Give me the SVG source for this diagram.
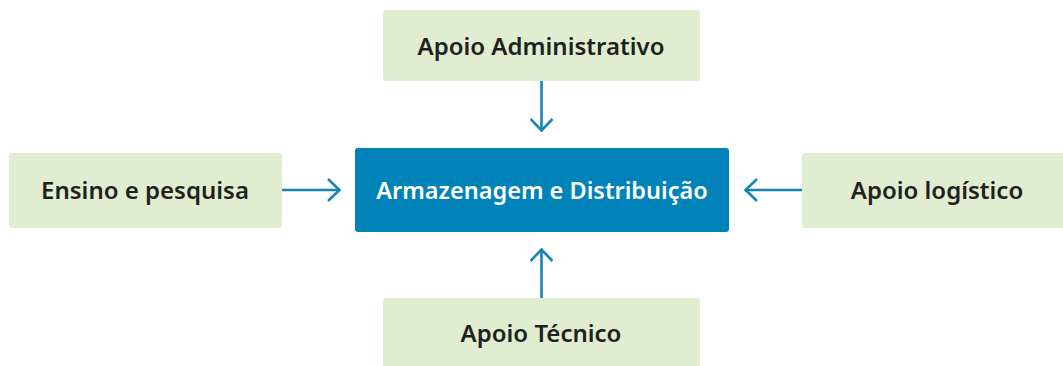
<svg xmlns="http://www.w3.org/2000/svg" width="1063" height="366" viewBox="0 0 1063 366">
<style>
.g{fill:#e0edd0}
.t{font-family:"Noto Sans","Open Sans",sans-serif;font-weight:600;font-size:24px;fill:#231f20;text-anchor:middle}
.w{fill:#ffffff;font-size:23.5px}
.c{stroke:#1585b8;stroke-width:2.6;fill:none}
</style>
<defs>
<marker id="ah" viewBox="0 0 14 24" refX="13" refY="12" markerWidth="14" markerHeight="24" markerUnits="userSpaceOnUse" orient="auto">
<path d="M1,1 L12.5,12 L1,23" fill="none" stroke="#1585b8" stroke-width="2.6"/>
</marker>
</defs>
<rect width="1063" height="366" fill="#ffffff"/>
<g id="top"><rect class="g" x="383" y="10" width="317" height="71" rx="3"/><text class="t" x="541" y="55">Apoio Administrativo</text></g>
<g id="center"><rect x="355" y="148" width="374" height="84" rx="3" fill="#0083b8"/><text class="t w" x="542" y="199">Armazenagem e Distribuição</text></g>
<g id="left"><rect class="g" x="9" y="153" width="273" height="75" rx="3"/><text class="t" x="145" y="199">Ensino e pesquisa</text></g>
<g id="right"><rect class="g" x="802" y="153" width="270" height="75" rx="3"/><text class="t" x="937" y="199">Apoio logístico</text></g>
<g id="bottom"><rect class="g" x="383" y="298" width="317" height="80" rx="3"/><text class="t" x="541" y="342">Apoio Técnico</text></g>
<g id="connectors">
<line class="c" x1="541.5" y1="81" x2="541.5" y2="131" marker-end="url(#ah)"/>
<line class="c" x1="282" y1="190" x2="340" y2="190" marker-end="url(#ah)"/>
<line class="c" x1="802" y1="190" x2="745" y2="190" marker-end="url(#ah)"/>
<line class="c" x1="541.5" y1="298" x2="541.5" y2="249" marker-end="url(#ah)"/>
</g>
</svg>
